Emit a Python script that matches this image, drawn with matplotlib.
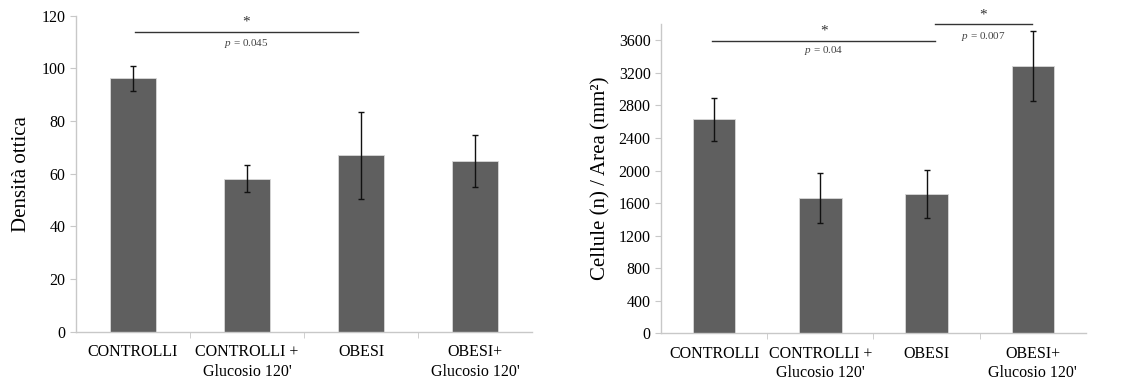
import matplotlib.pyplot as plt
import numpy as np

plt.rcParams['font.family'] = ['Liberation Serif', 'DejaVu Serif']
plt.rcParams['mathtext.fontset'] = 'custom'
plt.rcParams['mathtext.rm'] = 'Liberation Serif'
plt.rcParams['mathtext.it'] = 'Liberation Serif:italic'

categories = ['CONTROLLI', 'CONTROLLI +\nGlucosio 120\'', 'OBESI', 'OBESI+\nGlucosio 120\'']

# left panel: optical density
densita = [96.3, 58.1, 67.0, 64.9]
densita_err = [4.8, 5.2, 16.6, 9.8]

# right panel: cells per area
cellule = [2629, 1666, 1712, 3284]
cellule_err = [265, 305, 293, 425]

bar_color = '#5f5f5f'
axis_color = '#c8c8c8'


def style_axis(ax, ymax, ystep):
    x = np.arange(len(categories))
    ax.set_xlim(-0.5, len(categories) - 0.5)
    ax.set_ylim(0, ymax)
    ax.set_yticks(np.arange(0, ymax + 1, ystep))
    ax.set_xticks(x)
    ax.set_xticklabels(categories, fontsize=11.5, linespacing=1.3)
    ax.set_xticks(x[:-1] + 0.5, minor=True)
    ax.tick_params(axis='x', which='major', length=0, pad=9)
    ax.tick_params(axis='x', which='minor', length=4, color=axis_color)
    ax.tick_params(axis='y', length=4, color=axis_color, labelsize=11.5)
    for s in ['top', 'right']:
        ax.spines[s].set_visible(False)
    for s in ['left', 'bottom']:
        ax.spines[s].set_color(axis_color)
        ax.spines[s].set_linewidth(1)


def sig(ax, x0, x1, y, star_y, p_y, label):
    ax.plot([x0, x1], [y, y], color='#333333', lw=1, clip_on=False)
    xm = (x0 + x1) / 2
    ax.text(xm, star_y, '*', ha='center', va='center', fontsize=11, color='#333333')
    ax.text(xm, p_y, label, ha='center', va='center', fontsize=8, color='#444444')


fig = plt.figure(figsize=(11.3, 3.88), dpi=100)
ax1 = fig.add_axes([0.0673, 0.145, 0.4035, 0.8144])
ax2 = fig.add_axes([0.585, 0.141, 0.376, 0.797])

x = np.arange(len(categories))
ax1.bar(x, densita, width=0.4, color=bar_color, edgecolor='#d8d8d8', linewidth=0.6, zorder=2)
ax1.errorbar(x, densita, yerr=densita_err, fmt='none', ecolor='#111111', elinewidth=1, capsize=2, capthick=1, zorder=3)
style_axis(ax1, 120, 20)
ax1.set_ylabel('Densità ottica', fontsize=15, labelpad=8)
sig(ax1, 0.02, 1.97, 113.7, 117.5, 109.5, '$p$ = 0.045')

ax2.bar(x, cellule, width=0.4, color=bar_color, edgecolor='#d8d8d8', linewidth=0.6, zorder=2)
ax2.errorbar(x, cellule, yerr=cellule_err, fmt='none', ecolor='#111111', elinewidth=1, capsize=2, capthick=1, zorder=3)
style_axis(ax2, 3800, 400)
ax2.set_yticks(np.arange(0, 3601, 400))
ax2.set_ylabel('Cellule (n) / Area (mm²)', fontsize=15, labelpad=6)
sig(ax2, -0.02, 2.08, 3595, 3720, 3470, '$p$ = 0.04')
sig(ax2, 2.08, 2.99, 3800, 3915, 3650, '$p$ = 0.007')

fig.savefig('out.png', dpi=100)
